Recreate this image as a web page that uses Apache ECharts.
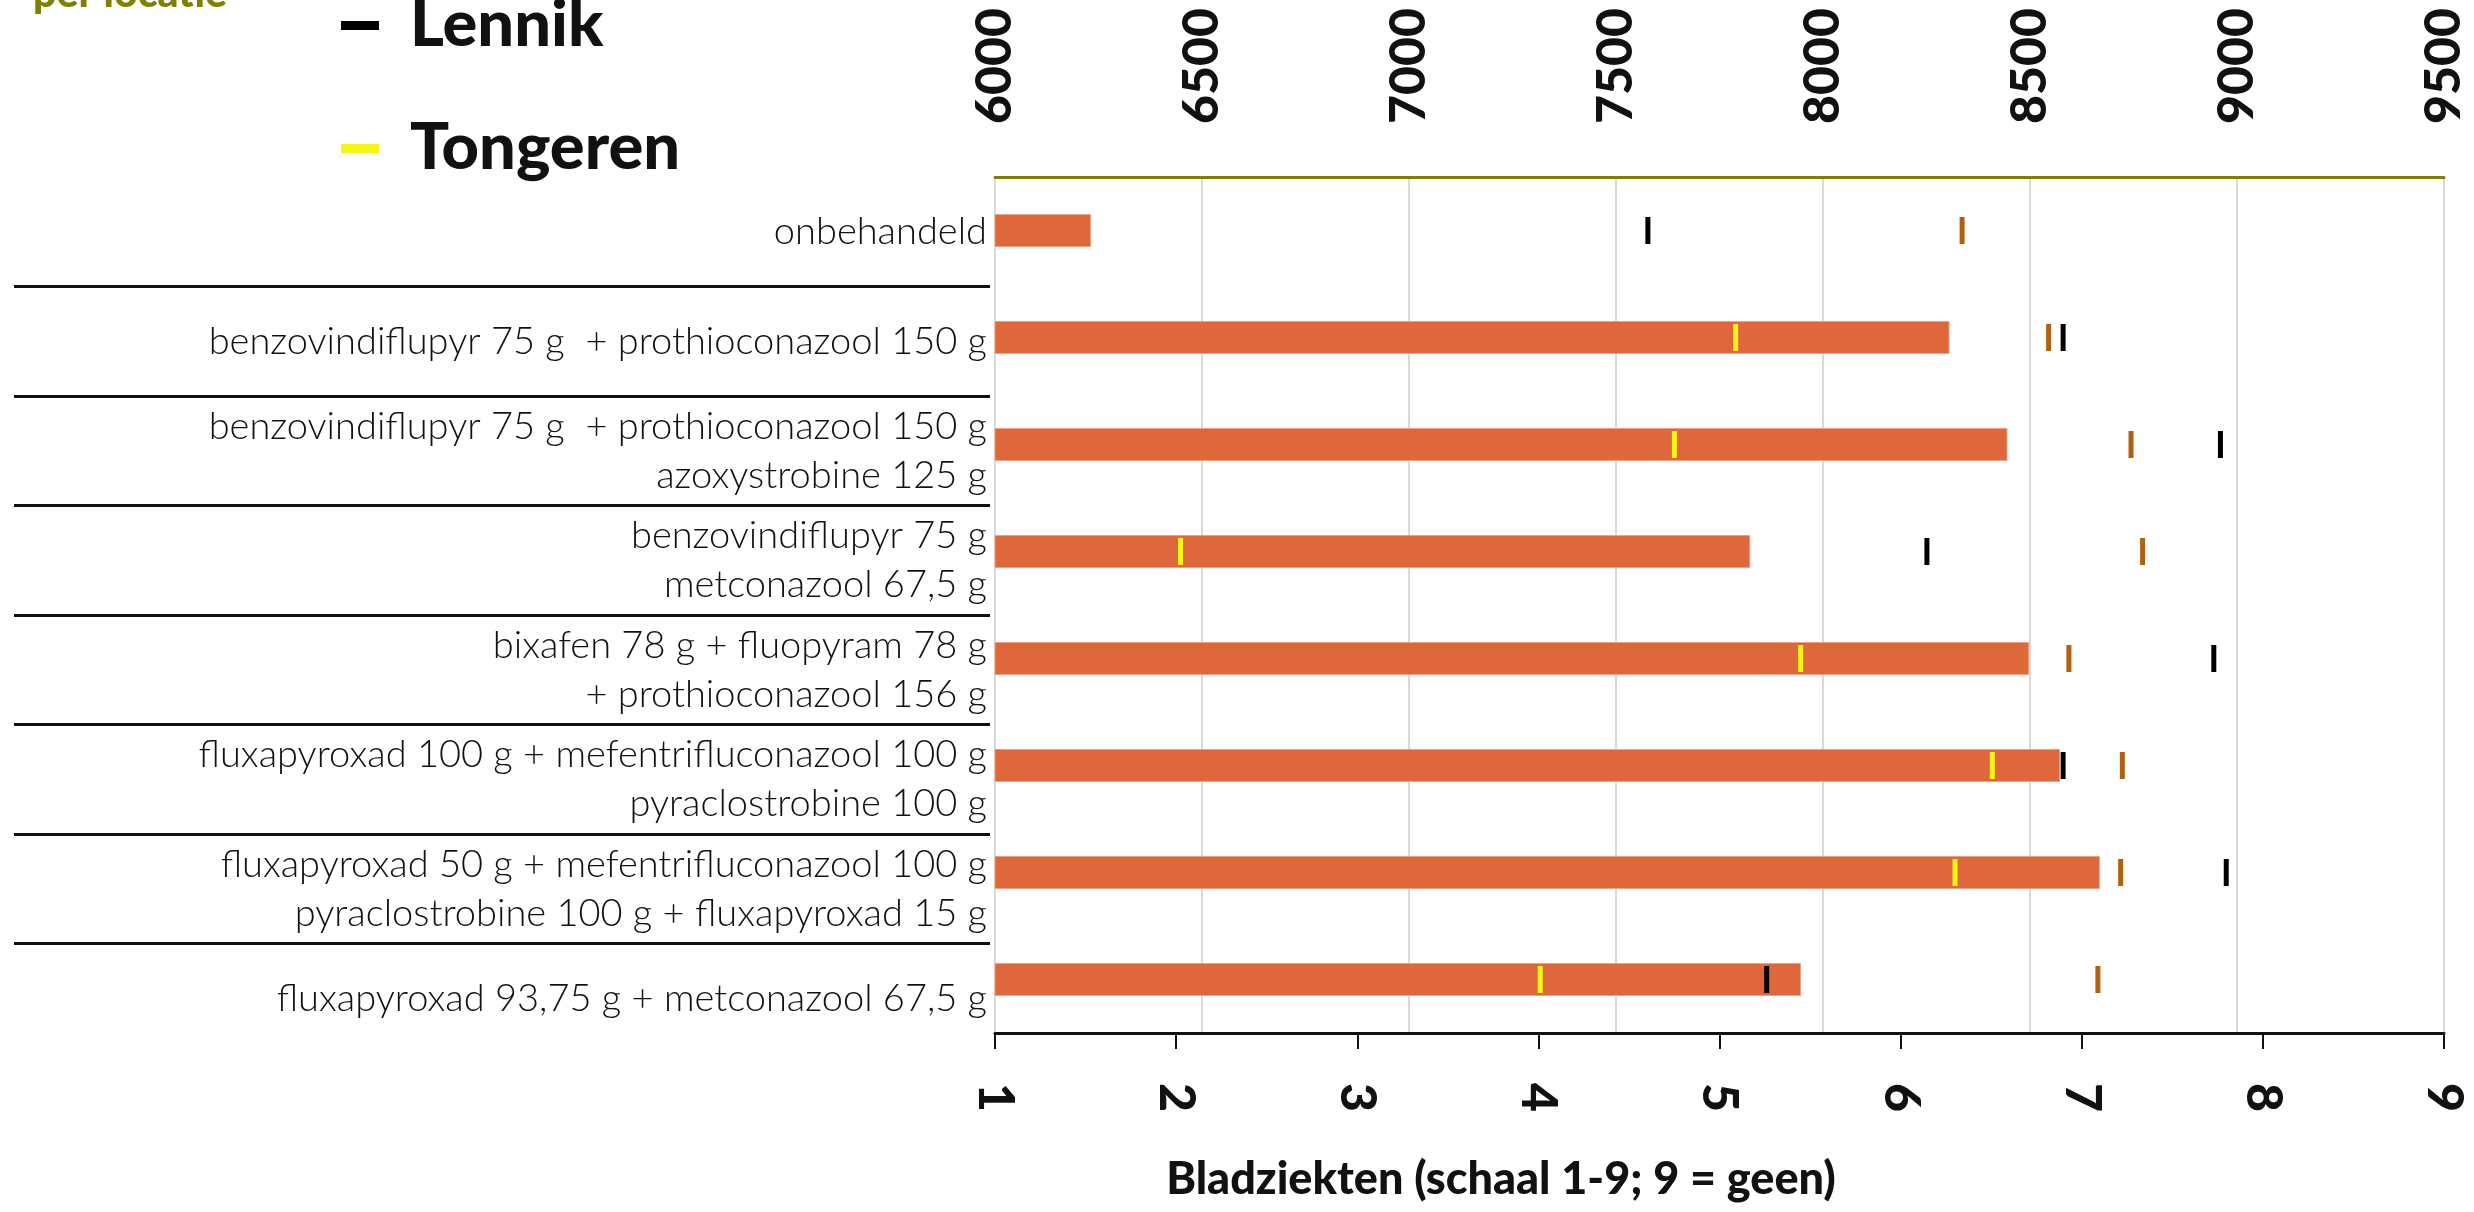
<!DOCTYPE html>
<html lang="nl">
<head>
    <meta charset="UTF-8">
    <title>Bladziekten en opbrengst per locatie</title>
    <script src="https://cdn.jsdelivr.net/npm/echarts@6/dist/echarts.min.js"></script>
    <style>
        html, body { margin: 0; padding: 0; background: #fff; }
        .box { width: 2474px; height: 1212px; }
    </style>
</head>
<body>
    <div class="box"></div>
</body>
<script>
 // behandelingen (van boven naar onder)
 let behandelingen = [
    'onbehandeld',
    'benzovindiflupyr 75 g  + prothioconazool 150 g',
    'benzovindiflupyr 75 g  + prothioconazool 150 g\nazoxystrobine 125 g',
    'benzovindiflupyr 75 g\nmetconazool 67,5 g',
    'bixafen 78 g + fluopyram 78 g\n+ prothioconazool 156 g',
    'fluxapyroxad 100 g + mefentrifluconazool 100 g\npyraclostrobine 100 g',
    'fluxapyroxad 50 g + mefentrifluconazool 100 g\npyraclostrobine 100 g + fluxapyroxad 15 g',
    'fluxapyroxad 93,75 g + metconazool 67,5 g'
 ]
 // bladziekten (schaal 1-9) -> balken, onderste as
 let bladziekten = [1.53, 6.27, 6.59, 5.17, 6.71, 6.88, 7.10, 5.45]
 // opbrengst per locatie -> streepjes, bovenste as
 let lennik   = [7577, 8580, 8960, 8251, 8944, 8580, 8974, 7864]
 let tongeren = [null, 7789, 7641, 6448, 7946, 8409, 8319, 7317]
 let locatie3 = [8336, 8545, 8744, 8772, 8594, 8723, 8719, 8664]
 // as-labels
 let schaalTicks = [1, 2, 3, 4, 5, 6, 7, 8, 9]
 let opbrengstTicks = [6000, 6500, 7000, 7500, 8000, 8500, 9000, 9500]

 let font = 'Lato, "Open Sans", sans-serif'
 let olijf = '#7f7f00'

 function punten(arr) {
    return arr.map((v, i) => [v, i]).filter(d => d[0] != null)
 }

 let Echarts = echarts.init(document.querySelector('.box'))
 let optie = {
    backgroundColor: '#fff',
    animation: false,
    title: {
        text: 'per locatie',
        left: 33,
        top: -27,
        padding: 0,
        textStyle: { color: olijf, fontFamily: font, fontWeight: 900, fontSize: 41 }
    },
    legend: {
        data: ['Lennik', 'Tongeren'],
        orient: 'vertical',
        left: 341,
        top: -7,
        padding: 0,
        itemGap: 58,
        itemWidth: 38,
        itemHeight: 9,
        icon: 'rect',
        selectedMode: false,
        textStyle: {
            fontFamily: font, fontWeight: 900, fontSize: 65, color: '#111',
            padding: [0, 0, 0, 26]
        }
    },
    grid: [
        { left: 995, right: 30, top: 177, bottom: 179, outerBoundsMode: 'none' },
        // labelgebied met scheidingslijnen
        { left: 14, right: 1484, top: 177, bottom: 159, outerBoundsMode: 'none' }
    ],
    xAxis: [
        {
            gridIndex: 0,
            type: 'value',
            position: 'bottom',
            min: schaalTicks[0],
            max: schaalTicks[schaalTicks.length - 1],
            interval: 1,
            axisLine: { show: true, lineStyle: { color: '#111', width: 3 } },
            axisTick: { show: true, length: 16, lineStyle: { color: '#111', width: 2 } },
            axisLabel: {
                rotate: -90, margin: 50,
                fontFamily: font, fontWeight: 900, fontSize: 50, color: '#111'
            },
            splitLine: { show: false },
            name: 'Bladziekten (schaal 1-9; 9 = geen)',
            nameLocation: 'middle',
            nameGap: 124,
            nameTextStyle: {
                fontFamily: font, fontWeight: 900, fontSize: 45, color: '#111',
                padding: [0, 437, 0, 0]
            }
        },
        {
            gridIndex: 0,
            type: 'value',
            position: 'top',
            min: opbrengstTicks[0],
            max: opbrengstTicks[opbrengstTicks.length - 1],
            interval: 500,
            axisLine: { show: true, lineStyle: { color: olijf, width: 3 } },
            axisTick: { show: false },
            axisLabel: {
                rotate: -90, margin: 53,
                formatter: v => String(v),
                fontFamily: font, fontWeight: 900, fontSize: 50, color: '#111'
            },
            splitLine: { show: true, lineStyle: { color: '#d9d9d9', width: 2 } }
        },
        { gridIndex: 1, type: 'value', show: false, min: 0, max: 1 }
    ],
    yAxis: [
        {
            gridIndex: 0,
            type: 'category',
            inverse: true,
            data: behandelingen,
            show: false
        },
        {
            gridIndex: 1,
            type: 'category',
            inverse: true,
            position: 'right',
            data: behandelingen,
            axisLine: { show: false },
            axisTick: { show: false },
            axisLabel: {
                inside: true, margin: 3, interval: 0,
                fontFamily: font, fontWeight: 300, fontSize: 38, lineHeight: 49, color: '#111'
            },
            splitLine: {
                show: true, interval: 0, showMinLine: false, showMaxLine: false,
                lineStyle: { color: '#111', width: 3 }
            }
        }
    ],
    series: [
        {
            name: 'Bladziekten',
            type: 'bar',
            xAxisIndex: 0,
            yAxisIndex: 0,
            data: bladziekten,
            barWidth: 33,
            itemStyle: { color: '#df673c', borderColor: '#eea083', borderWidth: 1 }
        },
        {
            name: 'locatie 3',
            type: 'scatter',
            xAxisIndex: 1,
            yAxisIndex: 0,
            data: punten(locatie3),
            symbol: 'rect',
            symbolSize: [5, 27],
            itemStyle: { color: '#b0600f', opacity: 1 }
        },
        {
            name: 'Tongeren',
            type: 'scatter',
            xAxisIndex: 1,
            yAxisIndex: 0,
            data: punten(tongeren),
            symbol: 'rect',
            symbolSize: [5, 27],
            itemStyle: { color: '#f5f516', opacity: 1 }
        },
        {
            name: 'Lennik',
            type: 'scatter',
            xAxisIndex: 1,
            yAxisIndex: 0,
            data: punten(lennik),
            symbol: 'rect',
            symbolSize: [5, 27],
            itemStyle: { color: '#000', opacity: 1 }
        }
    ]
 }
 Echarts.setOption(optie)
</script>
</html>
